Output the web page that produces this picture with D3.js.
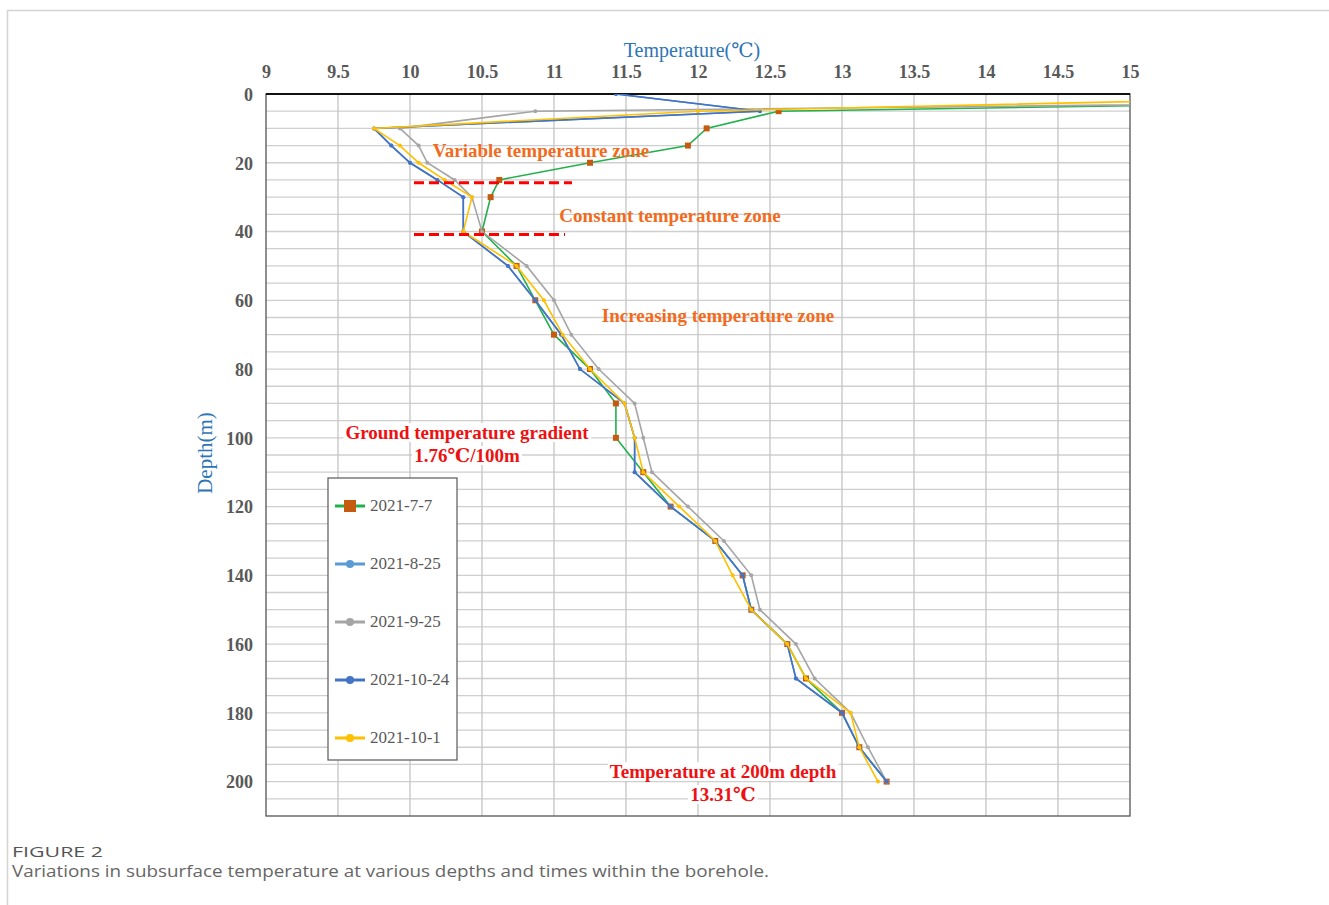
<!DOCTYPE html>
<html>
<head>
<meta charset="utf-8">
<script src="https://cdn.jsdelivr.net/npm/d3@7"></script>
<style>
  html, body { margin: 0; padding: 0; background: #fff; }
  #chart { width: 1329px; height: 905px; position: relative; }
</style>
</head>
<body>
<div id="chart"></div>
<script>
// Depths (m) where the borehole was measured
const depths = [0, 5, 10, 15, 20, 25, 30, 40, 50, 60, 70, 80, 90, 100, 110, 120, 130, 140, 150, 160, 170, 180, 190, 200];

// Temperatures (°C) per survey date
const temp0707 = [20.2, 12.56, 12.06, 11.93, 11.25, 10.62, 10.56, 10.50, 10.74, 10.87, 11.00, 11.25, 11.43, 11.43, 11.62, 11.81, 12.12, 12.31, 12.37, 12.62, 12.75, 13.00, 13.12, 13.31];
const temp0825 = [11.43, 12.43, 9.75, 9.87, 10.00, 10.19, 10.37, 10.37, 10.68, 10.87, 11.05, 11.18, 11.49, 11.56, 11.56, 11.81, 12.12, 12.31, 12.37, 12.62, 12.68, 13.00, 13.12, 13.31];
const temp0925 = [22.2, 10.87, 9.93, 10.06, 10.12, 10.31, 10.43, 10.50, 10.81, 11.00, 11.12, 11.31, 11.56, 11.62, 11.68, 11.93, 12.18, 12.37, 12.43, 12.68, 12.81, 13.06, 13.18, 13.31];
const temp1024 = [11.43, 12.43, 9.75, 9.87, 10.00, 10.19, 10.37, 10.37, 10.68, 10.87, 11.05, 11.18, 11.49, 11.56, 11.56, 11.81, 12.12, 12.31, 12.37, 12.62, 12.68, 13.00, 13.12, 13.31];
const temp1001 = [17.4, 12.00, 9.75, 9.93, 10.06, 10.24, 10.43, 10.37, 10.74, 10.93, 11.06, 11.25, 11.49, 11.56, 11.62, 11.87, 12.12, 12.24, 12.37, 12.62, 12.75, 13.06, 13.12, 13.25];

const seriesNames = ['2021-7-7', '2021-8-25', '2021-9-25', '2021-10-24', '2021-10-1'];
const seriesValues = [temp0707, temp0825, temp0925, temp1024, temp1001];
const seriesColors = ['#22b04c', '#5b9bd5', '#a5a5a5', '#4472c4', '#ffc000'];

const xTicks = [9, 9.5, 10, 10.5, 11, 11.5, 12, 12.5, 13, 13.5, 14, 14.5, 15];
const yTicks = [0, 20, 40, 60, 80, 100, 120, 140, 160, 180, 200];

const serif = '"Liberation Serif", "DejaVu Serif", serif';

function drawChart() {
    const svg = d3.select('#chart')
        .append('svg')
        .attr('width', 1329)
        .attr('height', 905);

    // Card frame
    svg.append('path')
        .attr('d', 'M7.5,905 V10.5 H1329')
        .attr('fill', 'none')
        .attr('stroke', '#d4d4d4')
        .attr('stroke-width', 1.5);

    const left = 266, top = 94, right = 1130, bottom = 816;

    const x = d3.scaleLinear().domain([9, 15]).range([left, right]);
    const y = d3.scaleLinear().domain([0, 210]).range([top, bottom]);

    // Grid lines
    const grid = svg.append('g').attr('class', 'grid');
    grid.selectAll('.hgrid')
        .data(d3.range(5, 210, 5))
        .enter().append('line')
        .attr('x1', left).attr('x2', right)
        .attr('y1', d => y(d)).attr('y2', d => y(d))
        .attr('stroke', '#cfcfcf')
        .attr('stroke-width', 1.3);
    grid.selectAll('.vgrid')
        .data(xTicks.slice(1, -1))
        .enter().append('line')
        .attr('x1', d => x(d)).attr('x2', d => x(d))
        .attr('y1', top).attr('y2', bottom)
        .attr('stroke', '#c4c4c4')
        .attr('stroke-width', 1.3);

    // Plot border
    svg.append('rect')
        .attr('x', left).attr('y', top)
        .attr('width', right - left).attr('height', bottom - top)
        .attr('fill', 'none')
        .attr('stroke', '#555')
        .attr('stroke-width', 1.3);
    svg.append('line')
        .attr('x1', left).attr('x2', right)
        .attr('y1', top).attr('y2', top)
        .attr('stroke', '#111')
        .attr('stroke-width', 2);

    // Axes (top temperature, left depth)
    const xAxis = svg.append('g')
        .attr('transform', `translate(0,${top - 13})`)
        .call(d3.axisTop(x).tickValues(xTicks).tickSize(0).tickFormat(d3.format('')));
    xAxis.select('.domain').remove();
    xAxis.selectAll('text')
        .style('font-family', serif)
        .style('font-size', '18px')
        .style('font-weight', 'bold')
        .style('fill', '#595959');

    const yAxis = svg.append('g')
        .attr('transform', `translate(${left - 10},0)`)
        .call(d3.axisLeft(y).tickValues(yTicks).tickSize(0));
    yAxis.select('.domain').remove();
    yAxis.selectAll('text')
        .attr('dy', '0.35em')
        .style('font-family', serif)
        .style('font-size', '18px')
        .style('font-weight', 'bold')
        .style('fill', '#595959');

    // Axis titles
    svg.append('text')
        .attr('x', 692).attr('y', 57)
        .attr('text-anchor', 'middle')
        .style('font-family', serif)
        .style('font-size', '20px')
        .style('fill', '#2e75b6')
        .text('Temperature(℃)');
    svg.append('text')
        .attr('transform', 'translate(212,453) rotate(-90)')
        .attr('text-anchor', 'middle')
        .style('font-family', serif)
        .style('font-size', '21px')
        .style('fill', '#2e75b6')
        .text('Depth(m)');

    // Clip lines to the plot area
    svg.append('clipPath').attr('id', 'plotClip')
        .append('rect')
        .attr('x', left).attr('y', top)
        .attr('width', right - left).attr('height', bottom - top);

    const line = d3.line()
        .x(d => x(d.t))
        .y(d => y(d.depth));

    const plot = svg.append('g').attr('clip-path', 'url(#plotClip)');

    seriesValues.forEach((vals, i) => {
        const pts = vals.map((t, j) => ({ t: t, depth: depths[j] }));
        const g = plot.append('g').attr('class', 'series');
        g.append('path')
            .datum(pts)
            .attr('d', line)
            .attr('fill', 'none')
            .attr('stroke', seriesColors[i])
            .attr('stroke-width', 1.6);
        if (i === 0) {
            g.selectAll('rect')
                .data(pts)
                .enter().append('rect')
                .attr('x', d => x(d.t) - 3)
                .attr('y', d => y(d.depth) - 3)
                .attr('width', 6).attr('height', 6)
                .attr('fill', '#c55a11');
        } else {
            g.selectAll('circle')
                .data(pts)
                .enter().append('circle')
                .attr('cx', d => x(d.t))
                .attr('cy', d => y(d.depth))
                .attr('r', 2)
                .attr('fill', seriesColors[i]);
        }
    });

    // Zone boundaries
    [[25.8, 414, 572], [40.9, 414, 565]].forEach(b => {
        svg.append('line')
            .attr('x1', b[1]).attr('x2', b[2])
            .attr('y1', y(b[0])).attr('y2', y(b[0]))
            .attr('stroke', '#ff0000')
            .attr('stroke-width', 3)
            .attr('stroke-dasharray', '10,5');
    });

    // Annotations
    const notes = [
        { text: 'Variable temperature zone', x: 541, y: 157, color: '#f26b1d', bg: false },
        { text: 'Constant temperature zone', x: 670, y: 222, color: '#f26b1d', bg: false },
        { text: 'Increasing temperature zone', x: 718, y: 322, color: '#f26b1d', bg: false },
        { text: 'Ground temperature gradient', x: 467, y: 439, color: '#ee1111', bg: true },
        { text: '1.76℃/100m', x: 467, y: 462, color: '#ee1111', bg: true },
        { text: 'Temperature at 200m depth', x: 723, y: 778, color: '#ee1111', bg: true },
        { text: '13.31℃', x: 723, y: 801, color: '#ee1111', bg: true }
    ];
    notes.forEach(n => {
        const t = svg.append('text')
            .attr('x', n.x).attr('y', n.y)
            .attr('text-anchor', 'middle')
            .style('font-family', serif)
            .style('font-size', '19px')
            .style('font-weight', 'bold')
            .style('fill', n.color)
            .text(n.text);
        if (n.bg) {
            const bb = t.node().getBBox();
            svg.insert('rect', () => t.node())
                .attr('x', bb.x - 2).attr('y', bb.y + 1)
                .attr('width', bb.width + 4).attr('height', bb.height - 2)
                .attr('fill', '#fff');
        }
    });

    // Legend
    const legend = svg.append('g').attr('transform', 'translate(328,478)');
    legend.append('rect')
        .attr('width', 129).attr('height', 282)
        .attr('fill', '#fff')
        .attr('stroke', '#595959')
        .attr('stroke-width', 1.2);
    seriesNames.forEach((name, i) => {
        const ly = 28 + i * 58;
        legend.append('line')
            .attr('x1', 7).attr('x2', 37)
            .attr('y1', ly).attr('y2', ly)
            .attr('stroke', seriesColors[i])
            .attr('stroke-width', 3);
        if (i === 0) {
            legend.append('rect')
                .attr('x', 16).attr('y', ly - 6)
                .attr('width', 12).attr('height', 12)
                .attr('fill', '#c55a11');
        } else {
            legend.append('circle')
                .attr('cx', 22).attr('cy', ly)
                .attr('r', 4)
                .attr('fill', seriesColors[i]);
        }
        legend.append('text')
            .attr('x', 42).attr('y', ly + 5)
            .style('font-family', serif)
            .style('font-size', '17px')
            .style('fill', '#595959')
            .text(name);
    });

    // Caption
    svg.append('text')
        .attr('x', 12).attr('y', 857)
        .attr('textLength', 91)
        .attr('lengthAdjust', 'spacingAndGlyphs')
        .style('font-family', '"Open Sans", sans-serif')
        .style('font-size', '14px')
        .style('fill', '#555')
        .text('FIGURE 2');
    svg.append('text')
        .attr('x', 12).attr('y', 877)
        .attr('textLength', 757)
        .attr('lengthAdjust', 'spacingAndGlyphs')
        .style('font-family', '"Open Sans", sans-serif')
        .style('font-size', '17px')
        .style('fill', '#666')
        .text('Variations in subsurface temperature at various depths and times within the borehole.');
}

drawChart();
</script>
</body>
</html>
